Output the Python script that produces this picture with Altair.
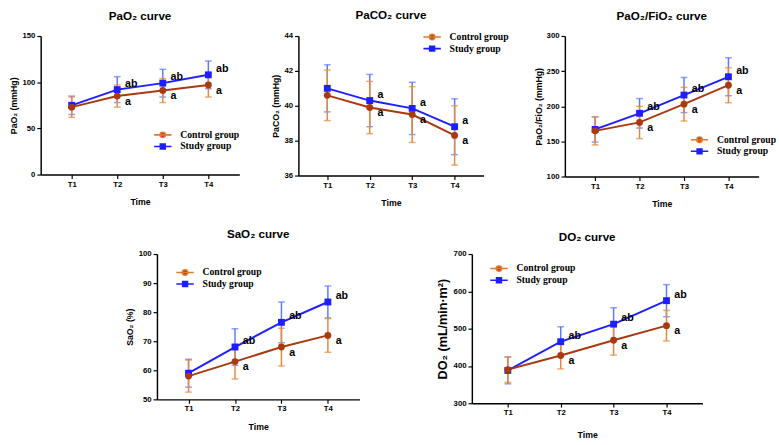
import altair as alt
import pandas as pd

times = ["T1", "T2", "T3", "T4"]
groups = ["Control group", "Study group"]

# PaO2
pao2_ctrl = [73, 85, 91, 97]
pao2_ctrl_sd = [11, 12, 13, 13]
pao2_study = [75, 92, 99, 108]
pao2_study_sd = [10, 14, 15, 15]
pao2_ticks = [0, 50, 100, 150]

# PaCO2
paco2_ctrl = [40.6, 39.9, 39.5, 38.3]
paco2_ctrl_sd = [1.45, 1.5, 1.6, 1.7]
paco2_study = [41.0, 40.3, 39.85, 38.8]
paco2_study_sd = [1.35, 1.5, 1.5, 1.6]
paco2_ticks = [36, 38, 40, 42, 44]

# PaO2/FiO2
pf_ctrl = [165, 177, 203, 230]
pf_ctrl_sd = [20, 23, 24, 25]
pf_study = [167, 190, 216, 242]
pf_study_sd = [18, 21, 25, 27]
pf_ticks = [100, 150, 200, 250, 300]

# SaO2
sao2_ctrl = [58, 63, 68, 72]
sao2_ctrl_sd = [5.5, 6, 6.5, 5.8]
sao2_study = [59, 68, 76.5, 83.5]
sao2_study_sd = [4.8, 6.3, 7, 5.5]
sao2_ticks = [50, 60, 70, 80, 90, 100]

# DO2
do2_ctrl = [390, 428, 469, 508]
do2_ctrl_sd = [34, 36, 40, 41]
do2_study = [388, 465, 512, 575]
do2_study_sd = [36, 40, 44, 43]
do2_ticks = [300, 400, 500, 600, 700]

ctrl_labels = ["", "a", "a", "a"]
study_labels_ab = ["", "ab", "ab", "ab"]
study_labels_a = ["", "a", "a", "a"]

LINE_COLORS = ["#A83A12", "#1E1EFF"]
ERR_COLORS = ["#E8873A", "#5A78FF"]
LEGEND_LINE_COLORS = ["#E07A30", "#1E1EFF"]
LEGEND_PATHS = [
    "M-1.8,0L1.8,0M0.55,0A0.55,0.55 0 1,1 -0.55,0A0.55,0.55 0 1,1 0.55,0Z",
    "M-1.8,0L1.8,0M-0.5,-0.5H0.5V0.5H-0.5Z",
]
SANS = "Liberation Sans"


def make_df(ctrl, ctrl_sd, study, study_sd, c_lab, s_lab):
    rows = []
    for g, vals, sds, labs in [
        (groups[0], ctrl, ctrl_sd, c_lab),
        (groups[1], study, study_sd, s_lab),
    ]:
        for t, v, s, l in zip(times, vals, sds, labs):
            rows.append(dict(Time=t, Group=g, value=v, lo=v - s, hi=v + s, label=l))
    return pd.DataFrame(rows)


def panel(title, ytitle, ticks, ctrl, ctrl_sd, study, study_sd, c_lab, s_lab,
          w, h, lx, ly, ytitle_size=9, title_offset=10, xtitle_pad=10, ytitle_pad=4):
    df = make_df(ctrl, ctrl_sd, study, study_sd, c_lab, s_lab)
    base = alt.Chart(df)
    xs = alt.X("Time:N", sort=times,
               scale=alt.Scale(type="point", padding=0.68),
               axis=alt.Axis(title="Time", labelAngle=0, titlePadding=xtitle_pad))
    ysc = alt.Scale(domain=[ticks[0], ticks[-1]], nice=False, zero=False)
    yax = alt.Axis(title=ytitle, values=ticks, titleFontSize=ytitle_size,
                   labelOverlap=False, titlePadding=ytitle_pad)

    def Y(f):
        return alt.Y(f, scale=ysc, axis=yax)

    layers = []
    # error bars
    for gi in [1, 0]:
        g = base.transform_filter(alt.datum.Group == groups[gi])
        layers.append(g.mark_rule(color=ERR_COLORS[gi], strokeWidth=1.5).encode(
            x=xs, y=Y("lo:Q"), y2="hi:Q"))
        for f in ["lo", "hi"]:
            layers.append(g.mark_tick(color=ERR_COLORS[gi], size=7, thickness=1.5).encode(
                x=xs, y=Y(f + ":Q")))
    # lines and points
    for gi in [1, 0]:
        g = base.transform_filter(alt.datum.Group == groups[gi])
        layers.append(g.mark_line(color=LINE_COLORS[gi], strokeWidth=2).encode(
            x=xs, y=Y("value:Q")))
    for gi, shp in [(1, "square"), (0, "circle")]:
        g = base.transform_filter(alt.datum.Group == groups[gi])
        layers.append(g.mark_point(shape=shp, filled=True, opacity=1,
                                   color=LINE_COLORS[gi], size=50).encode(
            x=xs, y=Y("value:Q")))
    # significance labels
    for gi, dy in [(1, -6), (0, 6)]:
        g = base.transform_filter(alt.datum.Group == groups[gi])
        layers.append(g.mark_text(align="left", baseline="middle", dx=8, dy=dy,
                                  fontSize=11, fontWeight="bold", font=SANS,
                                  color="black").encode(
            x=xs, y=Y("value:Q"), text="label:N"))
    # legend layer
    leg = alt.Legend(title=None, orient="none", legendX=lx, legendY=ly,
                     symbolSize=100, symbolStrokeWidth=1.6, labelOffset=12,
                     labelFont="Liberation Serif", labelFontSize=10,
                     labelFontWeight="bold", labelColor="black", rowPadding=-2)
    layers.append(base.transform_filter("false").mark_point(filled=True, opacity=1, strokeWidth=1.6).encode(
        x=xs, y=Y("value:Q"),
        color=alt.Color("Group:N", scale=alt.Scale(domain=groups, range=LINE_COLORS), legend=leg),
        stroke=alt.Stroke("Group:N", scale=alt.Scale(domain=groups, range=LEGEND_LINE_COLORS), legend=leg),
        shape=alt.Shape("Group:N", scale=alt.Scale(domain=groups, range=LEGEND_PATHS), legend=leg),
    ))
    return alt.layer(*layers).properties(
        width=w, height=h,
        title=alt.TitleParams(title, fontSize=12, fontWeight="bold", font=SANS,
                              anchor="middle", offset=title_offset),
    )


p1 = panel("PaO₂ curve", "PaO₂ (mmHg)", pao2_ticks, pao2_ctrl, pao2_ctrl_sd,
           pao2_study, pao2_study_sd, ctrl_labels, study_labels_ab, 205, 143, 120, 96)
p2 = panel("PaCO₂ curve", "PaCO₂ (mmHg)", paco2_ticks, paco2_ctrl, paco2_ctrl_sd,
           paco2_study, paco2_study_sd, ctrl_labels, study_labels_a, 191, 144, 132, -5)
p3 = panel("PaO₂/FiO₂ curve", "PaO₂/FiO₂ (mmHg)", pf_ticks, pf_ctrl, pf_ctrl_sd,
           pf_study, pf_study_sd, ctrl_labels, study_labels_ab, 200, 145, 133, 101,
           ytitle_pad=3)
p4 = panel("SaO₂ curve", "SaO₂ (%)", sao2_ticks, sao2_ctrl, sao2_ctrl_sd,
           sao2_study, sao2_study_sd, ctrl_labels, study_labels_ab, 209, 150, 23, 13)
p5 = panel("DO₂ curve", "DO₂ (mL/min·m²)", do2_ticks, do2_ctrl, do2_ctrl_sd,
           do2_study, do2_study_sd, ctrl_labels, study_labels_ab, 238, 154, 22, 9,
           ytitle_size=13, title_offset=6, xtitle_pad=14)

spacer = alt.Chart(pd.DataFrame({"v": [0]})).mark_point(opacity=0).encode(
    x=alt.value(0), y=alt.value(0)).properties(width=8, height=10)

indep = dict(color="independent", stroke="independent", shape="independent")
top_left = alt.hconcat(p1, p2, spacing=32).resolve_scale(**indep).resolve_legend(**indep)
top = alt.hconcat(top_left, p3, spacing=25).resolve_scale(**indep).resolve_legend(**indep)
bottom = alt.hconcat(spacer, p4, p5, spacing=79).resolve_scale(**indep).resolve_legend(**indep)
chart = alt.vconcat(top, bottom, spacing=20).resolve_scale(**indep).resolve_legend(**indep).properties(
    padding={"left": 9, "top": 2, "right": 2, "bottom": 2},
    background="white",
).configure_view(stroke=None).configure_axis(
    grid=False, domainColor="black", domainWidth=1.5, tickColor="black",
    tickWidth=1.2, tickSize=4, labelFont=SANS, labelFontSize=8,
    labelFontWeight="bold", labelColor="black", titleFont=SANS,
    titleFontSize=9, titleFontWeight="bold", titleColor="black", labelPadding=2,
).configure_axisX(titleFontSize=9)

chart.save("out.html", embed_options={"renderer": "svg", "actions": False})
